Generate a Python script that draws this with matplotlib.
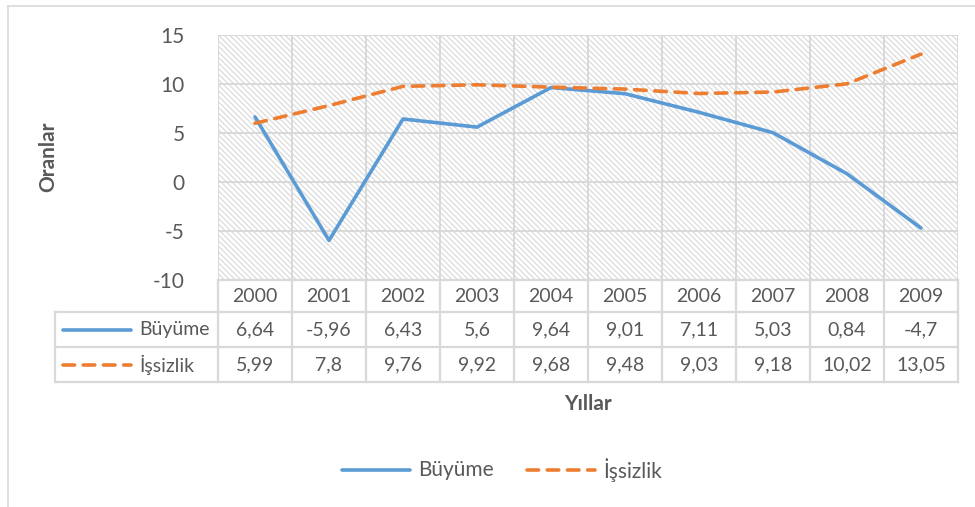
import matplotlib
matplotlib.use("Agg")
import matplotlib.pyplot as plt
from matplotlib.lines import Line2D
from matplotlib.patches import Rectangle
from matplotlib.transforms import blended_transform_factory

years = ["2000", "2001", "2002", "2003", "2004", "2005", "2006", "2007", "2008", "2009"]
buyume = [6.64, -5.96, 6.43, 5.6, 9.64, 9.01, 7.11, 5.03, 0.84, -4.7]
issizlik = [5.99, 7.8, 9.76, 9.92, 9.68, 9.48, 9.03, 9.18, 10.02, 13.05]
buyume_lbl = ["6,64", "-5,96", "6,43", "5,6", "9,64", "9,01", "7,11", "5,03", "0,84", "-4,7"]
issizlik_lbl = ["5,99", "7,8", "9,76", "9,92", "9,68", "9,48", "9,03", "9,18", "10,02", "13,05"]
yticks = [-10, -5, 0, 5, 10, 15]
series_names = ["Büyüme", "İşsizlik"]

BLUE = "#5B9BD5"
ORANGE = "#ED7D31"
TXT = "#595959"
GRID = "#D9D9D9"
HATCH = "#D8D8D8"
FONT = "Lato"
FS = 14

plt.rcParams["font.family"] = [FONT, "DejaVu Sans"]
plt.rcParams["hatch.color"] = HATCH
plt.rcParams["hatch.linewidth"] = 0.8

W, H = 975, 507
fig = plt.figure(figsize=(W / 100, H / 100), dpi=100)

def fx(px):
    return px / W

def fy(py):
    return 1 - py / H

L, R, T, B = 218, 958, 35, 280
ax = fig.add_axes([fx(L), fy(B), fx(R) - fx(L), fy(T) - fy(B)])
ax.set_xlim(0, len(years))
ax.set_ylim(-10, 15)

LW = 2.6
DASH = (3.2, 2.4)

# hatched background
ax.add_patch(Rectangle((0, 0), 1, 1, transform=ax.transAxes, facecolor="white",
                       edgecolor=HATCH, linewidth=0, hatch="\\" * 6, zorder=0))
for y in yticks:
    ax.axhline(y, color=GRID, lw=1.4, zorder=1)
for i in range(len(years) + 1):
    ax.axvline(i, color=GRID, lw=1.4, zorder=1)

xs = [i + 0.5 for i in range(len(years))]
ax.plot(xs, buyume, color=BLUE, lw=LW, solid_capstyle="round", solid_joinstyle="round", zorder=3)
ax.plot(xs, issizlik, color=ORANGE, lw=LW, dashes=DASH, dash_capstyle="round", zorder=3)

ax.set_yticks(yticks)
ax.set_yticklabels([str(v) for v in yticks], fontsize=FS + 1, color=TXT)
ax.tick_params(axis="y", length=0, pad=24)
ax.set_xticks([])
for s in ax.spines.values():
    s.set_visible(False)

# data table
bt = blended_transform_factory(ax.transData, fig.transFigure)
tb_left = 55
rows_y = [280, 312, 347, 382]
lc = GRID
lw = 1.6
fig.add_artist(Line2D([fx(L), fx(R)], [fy(rows_y[0])] * 2, color=lc, lw=lw))
for yy in rows_y[1:]:
    fig.add_artist(Line2D([fx(tb_left), fx(R)], [fy(yy)] * 2, color=lc, lw=lw))
for i in range(len(years) + 1):
    fig.add_artist(Line2D([i, i], [fy(rows_y[0]), fy(rows_y[3])], color=lc, lw=lw, transform=bt))
fig.add_artist(Line2D([fx(tb_left)] * 2, [fy(rows_y[1]), fy(rows_y[3])], color=lc, lw=lw))

def cy(r):
    return fy((rows_y[r] + rows_y[r + 1]) / 2)

for i, x in enumerate(xs):
    fig.text(x, cy(0), years[i], transform=bt, ha="center", va="center", fontsize=FS, color=TXT)
    fig.text(x, cy(1), buyume_lbl[i], transform=bt, ha="center", va="center", fontsize=FS, color=TXT)
    fig.text(x, cy(2), issizlik_lbl[i], transform=bt, ha="center", va="center", fontsize=FS, color=TXT)

fig.add_artist(Line2D([fx(63), fx(131)], [cy(1)] * 2, color=BLUE, lw=LW, solid_capstyle="round"))
fig.add_artist(Line2D([fx(63), fx(131)], [cy(2)] * 2, color=ORANGE, lw=LW, dashes=DASH,
                      dash_capstyle="round"))
fig.text(fx(139), cy(1), series_names[0], ha="left", va="center", fontsize=FS, color=TXT)
fig.text(fx(139), cy(2), series_names[1], ha="left", va="center", fontsize=FS, color=TXT)

# axis titles
fig.text(fx((L + R) / 2), fy(404), "Yıllar", ha="center", va="center", fontsize=FS + 1, color=TXT,
         fontweight="bold")
fig.text(fx(48), fy(157), "Oranlar", ha="center", va="center", rotation=90, fontsize=FS + 1,
         color=TXT, fontweight="bold")

# bottom legend
ly = fy(470)
fig.add_artist(Line2D([fx(342), fx(410)], [ly] * 2, color=BLUE, lw=LW, solid_capstyle="round"))
fig.text(fx(418), ly, series_names[0], ha="left", va="center", fontsize=FS + 1, color=TXT)
fig.add_artist(Line2D([fx(527), fx(595)], [ly] * 2, color=ORANGE, lw=LW, dashes=DASH,
                      dash_capstyle="round"))
fig.text(fx(603), ly, series_names[1], ha="left", va="center", fontsize=FS + 1, color=TXT)

# chart border
fig.add_artist(Line2D([fx(8), fx(8)], [fy(6), 0], color="#D9D9D9", lw=1.2))
fig.add_artist(Line2D([fx(8), 1], [fy(6), fy(6)], color="#D9D9D9", lw=1.2))

fig.savefig("out.png", dpi=100, facecolor="white")
